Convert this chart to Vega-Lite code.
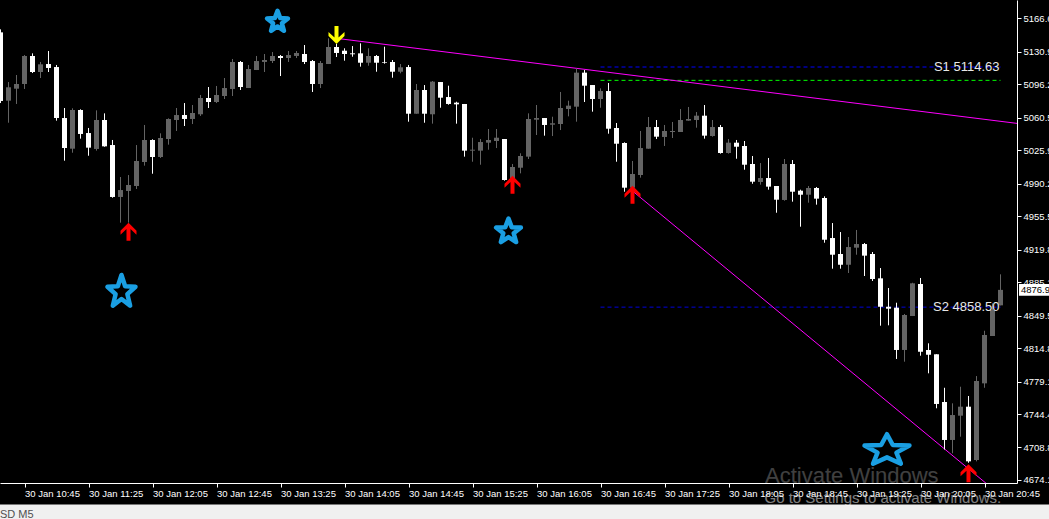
{
  "$schema": "https://vega.github.io/schema/vega-lite/v6.json",
  "width": 1017,
  "height": 483,
  "autosize": {"type": "none"},
  "padding": {"left": 0, "top": 0, "right": 32, "bottom": 36},
  "background": "#000000",
  "config": {"view": {"stroke": null}},
  "resolve": {"scale": {"color": "independent", "shape": "independent", "size": "independent"}},
  "datasets": {
    "candles": [
      {"t": "2026-01-30T10:30", "o": 5151.6, "h": 5154.8, "l": 5076.2, "c": 5078.4},
      {"t": "2026-01-30T10:35", "o": 5078.7, "h": 5098.6, "l": 5055.2, "c": 5093.0},
      {"t": "2026-01-30T10:40", "o": 5091.5, "h": 5106.1, "l": 5075.2, "c": 5096.5},
      {"t": "2026-01-30T10:45", "o": 5096.5, "h": 5127.4, "l": 5091.2, "c": 5126.4},
      {"t": "2026-01-30T10:50", "o": 5126.4, "h": 5129.2, "l": 5108.2, "c": 5109.3},
      {"t": "2026-01-30T10:55", "o": 5109.3, "h": 5120.0, "l": 5102.9, "c": 5117.5},
      {"t": "2026-01-30T11:00", "o": 5117.8, "h": 5131.7, "l": 5109.3, "c": 5113.6},
      {"t": "2026-01-30T11:05", "o": 5114.6, "h": 5116.8, "l": 5057.4, "c": 5060.2},
      {"t": "2026-01-30T11:10", "o": 5060.2, "h": 5070.9, "l": 5014.7, "c": 5028.2},
      {"t": "2026-01-30T11:15", "o": 5027.5, "h": 5070.6, "l": 5023.2, "c": 5068.8},
      {"t": "2026-01-30T11:20", "o": 5068.8, "h": 5069.5, "l": 5038.2, "c": 5043.2},
      {"t": "2026-01-30T11:25", "o": 5044.2, "h": 5049.6, "l": 5020.0, "c": 5028.6},
      {"t": "2026-01-30T11:30", "o": 5027.2, "h": 5068.4, "l": 5025.4, "c": 5058.1},
      {"t": "2026-01-30T11:35", "o": 5058.1, "h": 5065.2, "l": 5029.6, "c": 5030.0},
      {"t": "2026-01-30T11:40", "o": 5031.4, "h": 5036.8, "l": 4975.2, "c": 4976.0},
      {"t": "2026-01-30T11:45", "o": 4976.0, "h": 4997.3, "l": 4948.6, "c": 4983.4},
      {"t": "2026-01-30T11:50", "o": 4982.4, "h": 4999.4, "l": 4948.6, "c": 4988.8},
      {"t": "2026-01-30T11:55", "o": 4987.7, "h": 5031.4, "l": 4984.5, "c": 5014.4},
      {"t": "2026-01-30T12:00", "o": 5013.3, "h": 5052.8, "l": 5009.4, "c": 5036.8},
      {"t": "2026-01-30T12:05", "o": 5036.8, "h": 5037.5, "l": 5000.8, "c": 5018.6},
      {"t": "2026-01-30T12:10", "o": 5018.6, "h": 5043.9, "l": 5017.6, "c": 5038.9},
      {"t": "2026-01-30T12:15", "o": 5037.8, "h": 5059.9, "l": 5031.8, "c": 5059.2},
      {"t": "2026-01-30T12:20", "o": 5058.1, "h": 5070.9, "l": 5046.4, "c": 5063.4},
      {"t": "2026-01-30T12:25", "o": 5063.4, "h": 5076.2, "l": 5051.7, "c": 5059.2},
      {"t": "2026-01-30T12:30", "o": 5059.2, "h": 5074.1, "l": 5053.8, "c": 5065.6},
      {"t": "2026-01-30T12:35", "o": 5064.2, "h": 5084.8, "l": 5062.4, "c": 5081.6},
      {"t": "2026-01-30T12:40", "o": 5081.6, "h": 5093.3, "l": 5070.9, "c": 5077.3},
      {"t": "2026-01-30T12:45", "o": 5077.3, "h": 5094.4, "l": 5076.2, "c": 5084.8},
      {"t": "2026-01-30T12:50", "o": 5083.7, "h": 5102.9, "l": 5080.5, "c": 5092.2},
      {"t": "2026-01-30T12:55", "o": 5091.2, "h": 5123.2, "l": 5083.7, "c": 5120.0},
      {"t": "2026-01-30T13:00", "o": 5120.0, "h": 5121.0, "l": 5090.1, "c": 5093.3},
      {"t": "2026-01-30T13:05", "o": 5092.2, "h": 5116.8, "l": 5092.2, "c": 5112.5},
      {"t": "2026-01-30T13:10", "o": 5111.4, "h": 5126.4, "l": 5111.4, "c": 5121.0},
      {"t": "2026-01-30T13:15", "o": 5120.0, "h": 5128.5, "l": 5109.3, "c": 5122.1},
      {"t": "2026-01-30T13:20", "o": 5121.0, "h": 5130.6, "l": 5118.9, "c": 5126.4},
      {"t": "2026-01-30T13:25", "o": 5126.4, "h": 5127.4, "l": 5105.0, "c": 5124.2},
      {"t": "2026-01-30T13:30", "o": 5124.2, "h": 5131.7, "l": 5120.0, "c": 5127.4},
      {"t": "2026-01-30T13:35", "o": 5126.4, "h": 5131.7, "l": 5124.2, "c": 5129.6},
      {"t": "2026-01-30T13:40", "o": 5128.5, "h": 5138.1, "l": 5117.8, "c": 5120.0},
      {"t": "2026-01-30T13:45", "o": 5121.0, "h": 5122.1, "l": 5088.0, "c": 5096.5},
      {"t": "2026-01-30T13:50", "o": 5096.5, "h": 5121.0, "l": 5092.2, "c": 5118.9},
      {"t": "2026-01-30T13:55", "o": 5117.8, "h": 5145.2, "l": 5117.8, "c": 5136.0},
      {"t": "2026-01-30T14:00", "o": 5136.0, "h": 5139.2, "l": 5125.3, "c": 5129.6},
      {"t": "2026-01-30T14:05", "o": 5132.0, "h": 5134.6, "l": 5121.4, "c": 5128.5},
      {"t": "2026-01-30T14:10", "o": 5129.2, "h": 5137.0, "l": 5125.6, "c": 5128.2},
      {"t": "2026-01-30T14:15", "o": 5129.2, "h": 5139.9, "l": 5115.0, "c": 5119.2},
      {"t": "2026-01-30T14:20", "o": 5119.2, "h": 5134.6, "l": 5116.0, "c": 5126.4},
      {"t": "2026-01-30T14:25", "o": 5126.4, "h": 5127.4, "l": 5109.6, "c": 5119.2},
      {"t": "2026-01-30T14:30", "o": 5119.6, "h": 5136.3, "l": 5118.2, "c": 5118.9},
      {"t": "2026-01-30T14:35", "o": 5120.0, "h": 5122.1, "l": 5103.2, "c": 5109.6},
      {"t": "2026-01-30T14:40", "o": 5109.6, "h": 5117.8, "l": 5107.9, "c": 5114.3},
      {"t": "2026-01-30T14:45", "o": 5114.6, "h": 5116.8, "l": 5056.3, "c": 5064.8},
      {"t": "2026-01-30T14:50", "o": 5064.8, "h": 5096.5, "l": 5064.8, "c": 5090.1},
      {"t": "2026-01-30T14:55", "o": 5090.1, "h": 5095.4, "l": 5055.2, "c": 5064.8},
      {"t": "2026-01-30T15:00", "o": 5064.2, "h": 5099.7, "l": 5054.2, "c": 5099.0},
      {"t": "2026-01-30T15:05", "o": 5098.6, "h": 5098.6, "l": 5071.2, "c": 5081.9},
      {"t": "2026-01-30T15:10", "o": 5082.6, "h": 5094.7, "l": 5074.4, "c": 5075.2},
      {"t": "2026-01-30T15:15", "o": 5076.6, "h": 5077.6, "l": 5054.2, "c": 5074.8},
      {"t": "2026-01-30T15:20", "o": 5075.2, "h": 5075.2, "l": 5019.0, "c": 5025.4},
      {"t": "2026-01-30T15:25", "o": 5025.4, "h": 5039.2, "l": 5013.6, "c": 5026.4},
      {"t": "2026-01-30T15:30", "o": 5025.4, "h": 5037.8, "l": 5010.4, "c": 5034.6},
      {"t": "2026-01-30T15:35", "o": 5033.9, "h": 5048.5, "l": 5026.4, "c": 5036.8},
      {"t": "2026-01-30T15:40", "o": 5035.7, "h": 5048.5, "l": 5028.2, "c": 5039.2},
      {"t": "2026-01-30T15:45", "o": 5037.8, "h": 5037.8, "l": 4993.4, "c": 4994.1},
      {"t": "2026-01-30T15:50", "o": 4994.1, "h": 5011.2, "l": 4990.9, "c": 5008.0},
      {"t": "2026-01-30T15:55", "o": 5007.2, "h": 5022.6, "l": 5001.2, "c": 5019.7},
      {"t": "2026-01-30T16:00", "o": 5019.0, "h": 5065.2, "l": 5016.5, "c": 5059.2},
      {"t": "2026-01-30T16:05", "o": 5058.4, "h": 5074.1, "l": 5042.1, "c": 5060.2},
      {"t": "2026-01-30T16:10", "o": 5060.2, "h": 5060.2, "l": 5041.4, "c": 5052.8},
      {"t": "2026-01-30T16:15", "o": 5053.1, "h": 5061.6, "l": 5041.0, "c": 5054.6},
      {"t": "2026-01-30T16:20", "o": 5053.8, "h": 5088.0, "l": 5047.4, "c": 5070.9},
      {"t": "2026-01-30T16:25", "o": 5069.8, "h": 5078.7, "l": 5062.0, "c": 5073.4},
      {"t": "2026-01-30T16:30", "o": 5072.3, "h": 5113.2, "l": 5056.3, "c": 5108.6},
      {"t": "2026-01-30T16:35", "o": 5108.6, "h": 5111.4, "l": 5077.3, "c": 5094.7},
      {"t": "2026-01-30T16:40", "o": 5095.4, "h": 5095.4, "l": 5067.0, "c": 5080.5},
      {"t": "2026-01-30T16:45", "o": 5080.5, "h": 5091.9, "l": 5071.2, "c": 5089.0},
      {"t": "2026-01-30T16:50", "o": 5089.0, "h": 5097.6, "l": 5043.5, "c": 5048.8},
      {"t": "2026-01-30T16:55", "o": 5049.6, "h": 5054.9, "l": 5013.6, "c": 5032.8},
      {"t": "2026-01-30T17:00", "o": 5033.6, "h": 5034.3, "l": 4981.6, "c": 4985.9},
      {"t": "2026-01-30T17:05", "o": 4985.9, "h": 5014.4, "l": 4982.4, "c": 5000.5},
      {"t": "2026-01-30T17:10", "o": 4999.4, "h": 5046.4, "l": 4996.6, "c": 5028.2},
      {"t": "2026-01-30T17:15", "o": 5027.5, "h": 5061.3, "l": 5027.5, "c": 5050.6},
      {"t": "2026-01-30T17:20", "o": 5050.6, "h": 5058.1, "l": 5037.8, "c": 5040.3},
      {"t": "2026-01-30T17:25", "o": 5040.0, "h": 5052.8, "l": 5030.4, "c": 5046.4},
      {"t": "2026-01-30T17:30", "o": 5045.3, "h": 5056.0, "l": 5038.9, "c": 5046.4},
      {"t": "2026-01-30T17:35", "o": 5045.3, "h": 5069.8, "l": 5045.3, "c": 5058.1},
      {"t": "2026-01-30T17:40", "o": 5057.4, "h": 5072.0, "l": 5057.4, "c": 5059.2},
      {"t": "2026-01-30T17:45", "o": 5058.1, "h": 5066.6, "l": 5049.9, "c": 5062.7},
      {"t": "2026-01-30T17:50", "o": 5062.7, "h": 5074.1, "l": 5038.2, "c": 5041.4},
      {"t": "2026-01-30T17:55", "o": 5041.0, "h": 5058.1, "l": 5040.3, "c": 5050.6},
      {"t": "2026-01-30T18:00", "o": 5050.6, "h": 5052.8, "l": 5022.2, "c": 5022.9},
      {"t": "2026-01-30T18:05", "o": 5022.9, "h": 5037.8, "l": 5022.2, "c": 5033.9},
      {"t": "2026-01-30T18:10", "o": 5033.9, "h": 5036.8, "l": 5016.8, "c": 5029.6},
      {"t": "2026-01-30T18:15", "o": 5030.4, "h": 5035.7, "l": 5005.1, "c": 5010.4},
      {"t": "2026-01-30T18:20", "o": 5011.2, "h": 5019.7, "l": 4990.1, "c": 4992.3},
      {"t": "2026-01-30T18:25", "o": 4992.0, "h": 5012.2, "l": 4989.1, "c": 4996.2},
      {"t": "2026-01-30T18:30", "o": 4996.2, "h": 5017.6, "l": 4983.8, "c": 4987.0},
      {"t": "2026-01-30T18:35", "o": 4987.7, "h": 4987.7, "l": 4959.2, "c": 4973.1},
      {"t": "2026-01-30T18:40", "o": 4972.8, "h": 5016.5, "l": 4972.0, "c": 5011.2},
      {"t": "2026-01-30T18:45", "o": 5011.2, "h": 5015.4, "l": 4971.0, "c": 4981.6},
      {"t": "2026-01-30T18:50", "o": 4982.7, "h": 4983.8, "l": 4944.3, "c": 4978.4},
      {"t": "2026-01-30T18:55", "o": 4978.4, "h": 4987.7, "l": 4969.9, "c": 4985.6},
      {"t": "2026-01-30T19:00", "o": 4985.6, "h": 4986.6, "l": 4967.8, "c": 4974.2},
      {"t": "2026-01-30T19:05", "o": 4974.9, "h": 4976.7, "l": 4927.2, "c": 4930.4},
      {"t": "2026-01-30T19:10", "o": 4932.2, "h": 4948.2, "l": 4899.5, "c": 4914.4},
      {"t": "2026-01-30T19:15", "o": 4915.2, "h": 4938.6, "l": 4899.5, "c": 4903.7},
      {"t": "2026-01-30T19:20", "o": 4903.7, "h": 4933.3, "l": 4894.9, "c": 4922.6},
      {"t": "2026-01-30T19:25", "o": 4921.9, "h": 4940.8, "l": 4914.4, "c": 4925.8},
      {"t": "2026-01-30T19:30", "o": 4925.8, "h": 4926.9, "l": 4891.7, "c": 4913.4},
      {"t": "2026-01-30T19:35", "o": 4915.2, "h": 4917.3, "l": 4886.4, "c": 4888.5},
      {"t": "2026-01-30T19:40", "o": 4889.2, "h": 4900.2, "l": 4838.7, "c": 4858.9},
      {"t": "2026-01-30T19:45", "o": 4858.9, "h": 4878.9, "l": 4839.1, "c": 4856.8},
      {"t": "2026-01-30T19:50", "o": 4857.9, "h": 4863.2, "l": 4803.2, "c": 4812.8},
      {"t": "2026-01-30T19:55", "o": 4812.8, "h": 4851.2, "l": 4800.3, "c": 4850.1},
      {"t": "2026-01-30T20:00", "o": 4849.0, "h": 4884.5, "l": 4849.0, "c": 4883.9},
      {"t": "2026-01-30T20:05", "o": 4883.2, "h": 4889.6, "l": 4806.7, "c": 4810.9},
      {"t": "2026-01-30T20:10", "o": 4812.8, "h": 4819.9, "l": 4787.9, "c": 4807.7},
      {"t": "2026-01-30T20:15", "o": 4808.2, "h": 4808.2, "l": 4750.6, "c": 4755.2},
      {"t": "2026-01-30T20:20", "o": 4757.3, "h": 4772.5, "l": 4706.6, "c": 4716.8},
      {"t": "2026-01-30T20:25", "o": 4716.8, "h": 4755.9, "l": 4702.6, "c": 4743.4},
      {"t": "2026-01-30T20:30", "o": 4742.7, "h": 4773.6, "l": 4720.3, "c": 4752.3},
      {"t": "2026-01-30T20:35", "o": 4752.3, "h": 4763.7, "l": 4692.5, "c": 4694.0},
      {"t": "2026-01-30T20:40", "o": 4695.4, "h": 4785.0, "l": 4694.0, "c": 4779.7},
      {"t": "2026-01-30T20:45", "o": 4777.2, "h": 4833.3, "l": 4772.5, "c": 4828.8},
      {"t": "2026-01-30T20:50", "o": 4827.7, "h": 4862.6, "l": 4827.7, "c": 4855.4},
      {"t": "2026-01-30T20:55", "o": 4860.4, "h": 4893.5, "l": 4860.4, "c": 4876.9}
    ],
    "levels": [
      {"lvl": "S1", "t": "2026-01-30T16:45", "t2": "2026-01-30T20:55", "p": 5114.63, "label": "S1 5114.63"},
      {"lvl": "P", "t": "2026-01-30T16:45", "t2": "2026-01-30T20:55", "p": 5100.4, "label": ""},
      {"lvl": "S2", "t": "2026-01-30T16:45", "t2": "2026-01-30T20:55", "p": 4858.5, "label": "S2 4858.50"}
    ],
    "trend": [
      {"ln": "resistance", "t": "2026-01-30T14:00", "p": 5145.2},
      {"ln": "resistance", "t": "2026-01-30T21:10", "p": 5053.5},
      {"ln": "support", "t": "2026-01-30T17:05", "p": 4982.4},
      {"ln": "support", "t": "2026-01-30T21:10", "p": 4636.7}
    ],
    "signals": [
      {"t": "2026-01-30T11:50", "p": 4948.6, "dir": "buy"},
      {"t": "2026-01-30T14:00", "p": 5139.2, "dir": "sell"},
      {"t": "2026-01-30T15:50", "p": 4998.7, "dir": "buy"},
      {"t": "2026-01-30T17:05", "p": 4988.0, "dir": "buy"},
      {"t": "2026-01-30T20:35", "p": 4690.8, "dir": "buy"}
    ],
    "stars": [
      {"t": "2026-01-30T13:23:08", "p": 5163.9, "kind": "small"},
      {"t": "2026-01-30T11:45:37", "p": 4876.4, "kind": "tall"},
      {"t": "2026-01-30T15:47:30", "p": 4940.4, "kind": "mid"},
      {"t": "2026-01-30T19:44:03", "p": 4707.2, "kind": "wide"}
    ]
  },
  "encoding": {
    "x": {
      "field": "t",
      "type": "temporal",
      "scale": {
        "padding": 0,
        "domain": [
          {"year": 2026, "month": "jan", "date": 30, "hours": 10, "minutes": 29, "seconds": 41, "milliseconds": 250},
          {"year": 2026, "month": "jan", "date": 30, "hours": 21, "minutes": 5, "seconds": 18, "milliseconds": 750}
        ]
      },
      "axis": {
        "title": null,
        "grid": false,
        "orient": "bottom",
        "values": [
          {"year": 2026, "month": "jan", "date": 30, "hours": 10, "minutes": 5},
          {"year": 2026, "month": "jan", "date": 30, "hours": 10, "minutes": 45},
          {"year": 2026, "month": "jan", "date": 30, "hours": 11, "minutes": 25},
          {"year": 2026, "month": "jan", "date": 30, "hours": 12, "minutes": 5},
          {"year": 2026, "month": "jan", "date": 30, "hours": 12, "minutes": 45},
          {"year": 2026, "month": "jan", "date": 30, "hours": 13, "minutes": 25},
          {"year": 2026, "month": "jan", "date": 30, "hours": 14, "minutes": 5},
          {"year": 2026, "month": "jan", "date": 30, "hours": 14, "minutes": 45},
          {"year": 2026, "month": "jan", "date": 30, "hours": 15, "minutes": 25},
          {"year": 2026, "month": "jan", "date": 30, "hours": 16, "minutes": 5},
          {"year": 2026, "month": "jan", "date": 30, "hours": 16, "minutes": 45},
          {"year": 2026, "month": "jan", "date": 30, "hours": 17, "minutes": 25},
          {"year": 2026, "month": "jan", "date": 30, "hours": 18, "minutes": 5},
          {"year": 2026, "month": "jan", "date": 30, "hours": 18, "minutes": 45},
          {"year": 2026, "month": "jan", "date": 30, "hours": 19, "minutes": 25},
          {"year": 2026, "month": "jan", "date": 30, "hours": 20, "minutes": 5},
          {"year": 2026, "month": "jan", "date": 30, "hours": 20, "minutes": 45}
        ],
        "format": "%d %b %H:%M",
        "labelAlign": "left",
        "labelBaseline": "top",
        "labelFlush": false,
        "labelOverlap": false,
        "labelBound": false,
        "labelPadding": 1,
        "labelFont": "Liberation Sans",
        "labelFontSize": 9.5,
        "labelColor": "#ffffff",
        "tickColor": "#ffffff",
        "tickSize": 4,
        "domainColor": "#ffffff"
      }
    },
    "y": {
      "field": "p",
      "type": "quantitative",
      "scale": {"domain": [4670.9, 5186.1], "nice": false, "zero": false, "padding": 0},
      "axis": {
        "title": null,
        "grid": false,
        "orient": "right",
        "values": [5166.64, 5130.97, 5096.28, 5060.59, 5025.93, 4990.24, 4955.55, 4919.86, 4885.17, 4849.51, 4814.82, 4779.13, 4744.47, 4708.81, 4674.12],
        "format": ".2f",
        "labelAlign": "left",
        "labelBaseline": "middle",
        "labelFlush": false,
        "labelOverlap": false,
        "labelBound": false,
        "labelPadding": 2,
        "labelFont": "Liberation Sans",
        "labelFontSize": 9.5,
        "labelColor": "#ffffff",
        "tickColor": "#ffffff",
        "tickSize": 4,
        "domainColor": "#ffffff"
      }
    }
  },
  "layer": [
    {
      "data": {"name": "levels"},
      "mark": {"type": "rule", "strokeWidth": 1, "strokeDash": [4, 3], "clip": true},
      "encoding": {
        "x2": {"field": "t2"},
        "color": {
          "field": "lvl",
          "type": "nominal",
          "scale": {"domain": ["S1", "P", "S2"], "range": ["#0000ff", "#00ff00", "#0000dd"]},
          "legend": null
        }
      }
    },
    {
      "data": {"name": "trend"},
      "mark": {"type": "line", "strokeWidth": 1, "color": "#ff00ff", "clip": true},
      "encoding": {"detail": {"field": "ln"}}
    },
    {
      "data": {"name": "candles"},
      "mark": {"type": "rule", "strokeWidth": 1},
      "encoding": {
        "y": {"field": "l", "type": "quantitative"},
        "y2": {"field": "h"},
        "color": {"condition": {"test": "datum.c > datum.o", "value": "#646464"}, "value": "#ffffff"}
      }
    },
    {
      "data": {"name": "candles"},
      "mark": {"type": "bar", "size": 5},
      "encoding": {
        "y": {"field": "o", "type": "quantitative"},
        "y2": {"field": "c"},
        "color": {"condition": {"test": "datum.c > datum.o", "value": "#646464"}, "value": "#ffffff"}
      }
    },
    {
      "data": {"name": "signals"},
      "mark": {"type": "point", "filled": true, "opacity": 1, "size": 256},
      "encoding": {
        "shape": {
          "field": "dir",
          "type": "nominal",
          "scale": {
            "domain": ["buy", "sell"],
            "range": [
              "M0,0L1,1.0L1,1.5L0.25,0.8L0.25,2.25L-0.25,2.25L-0.25,0.8L-1,1.5L-1,1.0Z",
              "M0,0L1,-1.0L1,-1.5L0.25,-0.8L0.25,-2.25L-0.25,-2.25L-0.25,-0.8L-1,-1.5L-1,-1.0Z"
            ]
          },
          "legend": null
        },
        "color": {
          "field": "dir",
          "type": "nominal",
          "scale": {"domain": ["buy", "sell"], "range": ["#ff0000", "#ffff00"]},
          "legend": null
        }
      }
    },
    {
      "data": {"name": "stars"},
      "mark": {"type": "point", "filled": false, "strokeWidth": 4.5, "strokeJoin": "round", "color": "#1a9fe3", "opacity": 1},
      "encoding": {
        "shape": {
          "field": "kind",
          "type": "nominal",
          "scale": {
            "domain": ["small", "mid", "tall", "wide"],
            "range": [
              "M0,-0.905L0.247,-0.245L0.951,-0.214L0.399,0.225L0.588,0.904L0,0.515L-0.588,0.904L-0.399,0.225L-0.951,-0.214L-0.247,-0.245Z",
              "M0,-0.905L0.247,-0.245L0.951,-0.214L0.399,0.225L0.588,0.904L0,0.515L-0.588,0.904L-0.399,0.225L-0.951,-0.214L-0.247,-0.245Z",
              "M0,-1.04L0.247,-0.282L0.951,-0.246L0.399,0.259L0.588,1.04L0,0.592L-0.588,1.04L-0.399,0.259L-0.951,-0.246L-0.247,-0.282Z",
              "M0,-0.905L0.358,-0.245L1.379,-0.214L0.579,0.225L0.853,0.904L0,0.515L-0.853,0.904L-0.579,0.225L-1.379,-0.214L-0.358,-0.245Z"
            ]
          },
          "legend": null
        },
        "size": {
          "field": "kind",
          "type": "nominal",
          "scale": {"domain": ["small", "mid", "tall", "wide"], "range": [484, 1063, 1011, 1024]},
          "legend": null
        }
      }
    },
    {
      "data": {"name": "levels"},
      "transform": [{"filter": "datum.label != ''"}],
      "mark": {"type": "text", "align": "right", "baseline": "middle", "dx": -1, "font": "Liberation Sans", "fontSize": 13, "color": "#e8e8e8"},
      "encoding": {
        "x": {"field": "t2", "type": "temporal"},
        "text": {"field": "label"}
      }
    },
    {
      "data": {"values": [{"t": "2026-01-30T21:06:34", "t2": "2026-01-30T21:30", "p": 4883.1, "p2": 4870.7}]},
      "mark": {"type": "rect", "color": "#ffffff", "clip": false},
      "encoding": {
        "x2": {"field": "t2"},
        "y2": {"field": "p2"}
      }
    },
    {
      "data": {"values": [{"t": "2026-01-30T21:07:48", "p": 4876.9, "price": "4876.90"}]},
      "mark": {"type": "text", "align": "left", "baseline": "middle", "font": "Liberation Sans", "fontSize": 9.5, "color": "#000000", "clip": false},
      "encoding": {"text": {"field": "price"}}
    },
    {
      "data": {"values": [{"t": "2026-01-30T10:00", "t2": "2026-01-30T22:00", "p": 4647.9, "p2": 4590}]},
      "mark": {"type": "rect", "color": "#f0f0f0", "clip": false},
      "encoding": {
        "x2": {"field": "t2"},
        "y2": {"field": "p2"}
      }
    },
    {
      "data": {"values": [{"t": "2026-01-30T10:29:41", "p": 4633.5, "tab": "SD M5"}]},
      "mark": {"type": "text", "align": "left", "baseline": "alphabetic", "font": "Liberation Sans", "fontSize": 11, "color": "#505050", "clip": false},
      "encoding": {"text": {"field": "tab"}}
    },
    {
      "data": {"values": [{"t": "2026-01-30T18:27:49", "p": 4670.9, "note": "Activate Windows"}]},
      "mark": {"type": "text", "align": "left", "baseline": "alphabetic", "font": "Liberation Sans", "fontSize": 22, "color": "#ffffff", "opacity": 0.25, "clip": false},
      "encoding": {"text": {"field": "note"}}
    },
    {
      "data": {"values": [{"t": "2026-01-30T18:27:30", "p": 4649.6, "note": "Go to Settings to activate Windows."}]},
      "mark": {"type": "text", "align": "left", "baseline": "alphabetic", "font": "Liberation Sans", "fontSize": 15, "color": "#ffffff", "opacity": 0.5, "clip": false},
      "encoding": {"text": {"field": "note"}}
    }
  ]
}
